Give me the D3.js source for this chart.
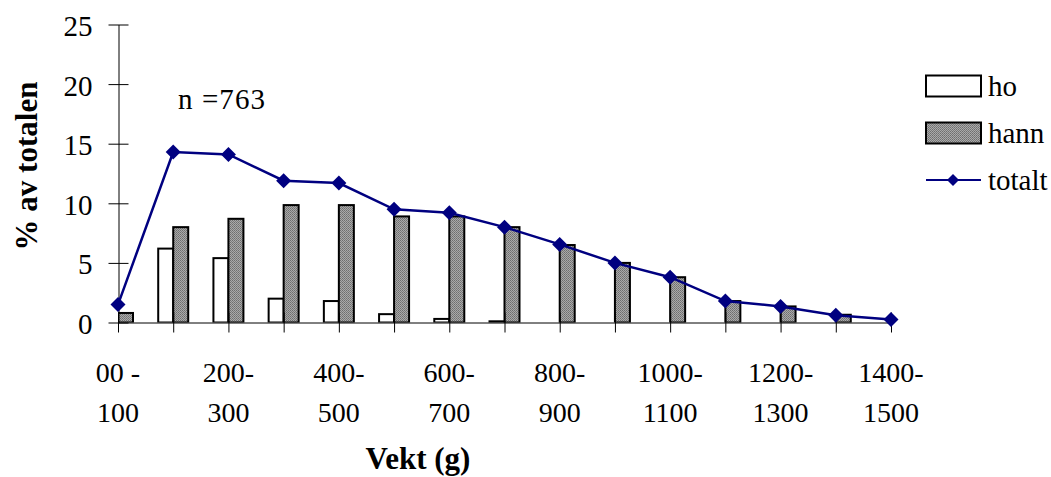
<!DOCTYPE html>
<html>
<head>
<meta charset="utf-8">
<script src="https://cdn.jsdelivr.net/npm/d3@7"></script>
<style>
  body { margin: 0; background: #fff; }
  svg { display: block; font-family: "Liberation Serif", "Times New Roman", serif; }
</style>
</head>
<body>
<div id="chart"></div>
<script>
// weight classes (g)
const categories = ["00 -100", "100-200", "200-300", "300-400", "400-500", "500-600", "600-700",
  "700-800", "800-900", "900-1000", "1000-1100", "1100-1200", "1200-1300", "1300-1400", "1400-1500"];
// % of total
const hoValues = [0.7, 6.2, 5.4, 2.0, 1.8, 0.7, 0.3, 0.1, 0, 0, 0, 0, 0, 0, 0];
const hannValues = [0.8, 8.0, 8.7, 9.85, 9.85, 8.9, 8.9, 8.0, 6.5, 5.0, 3.8, 1.8, 1.35, 0.65, 0.3];
const totaltValues = [1.5, 14.3, 14.1, 11.9, 11.7, 9.5, 9.2, 8.0, 6.55, 5.0, 3.8, 1.8, 1.35, 0.6, 0.25];
const yTicks = [0, 5, 10, 15, 20, 25];
const seriesNames = ["ho", "hann", "totalt"];

const width = 1051, height = 477;
const margin = {top: 24.5, right: 160, bottom: 154.5, left: 118};

const svg = d3.select("#chart").append("svg")
    .attr("width", width)
    .attr("height", height);

// fine grey dither like the old excel fill
const defs = svg.append("defs");
const pat = defs.append("pattern")
    .attr("id", "hatch")
    .attr("patternUnits", "userSpaceOnUse")
    .attr("width", 2).attr("height", 2);
pat.append("rect").attr("width", 2).attr("height", 2).attr("fill", "#a9a9a9");
pat.append("rect").attr("width", 1).attr("height", 1).attr("fill", "#6e6e6e");
pat.append("rect").attr("x", 1).attr("y", 1).attr("width", 1).attr("height", 1).attr("fill", "#7c7c7c");

defs.append("clipPath").attr("id", "plot-clip")
  .append("rect")
    .attr("x", margin.left).attr("y", 0)
    .attr("width", width - margin.right - margin.left + 1)
    .attr("height", height - margin.bottom);

let x = d3.scalePoint()
    .domain(categories)
    .range([margin.left, width - margin.right]);

let sub = d3.scaleBand()
    .domain(["ho", "hann"])
    .range([-15, 15]);

let y = d3.scaleLinear()
    .domain([0, 25])
    .range([height - margin.bottom, margin.top]);

// bars
let bars = svg.append("g").attr("clip-path", "url(#plot-clip)");
categories.forEach((c, i) => {
  [["ho", hoValues[i], "#fff"], ["hann", hannValues[i], "url(#hatch)"]].forEach(([k, v, fill]) => {
    if (v <= 0) return;
    bars.append("rect")
        .attr("x", x(c) + sub(k))
        .attr("y", y(v))
        .attr("width", sub.bandwidth())
        .attr("height", y(0) - y(v))
        .attr("fill", fill)
        .attr("stroke", "#000")
        .attr("stroke-width", 2);
  });
});

// axes
let yAxis = g => g
    .attr("transform", `translate(${margin.left + 0.5},0)`)
    .call(d3.axisLeft(y).tickValues(yTicks).tickSize(0).tickPadding(26))
    .call(g => g.selectAll(".tick line").attr("x1", -10).attr("x2", 10).attr("stroke", "#000"))
    .call(g => g.select(".domain").attr("stroke", "#000"))
    .call(g => g.selectAll(".tick text")
        .attr("font-family", "Liberation Serif")
        .attr("font-size", 29)
        .attr("fill", "#000")
        .attr("dy", "0.38em"));

let xAxis = g => g
    .attr("transform", `translate(0,${height - margin.bottom})`)
    .call(d3.axisBottom(x).tickSize(0).tickFormat(""))
    .call(g => g.selectAll(".tick line").attr("y1", -10).attr("y2", 10).attr("stroke", "#000"))
    .call(g => g.select(".domain").attr("stroke", "#000"));

svg.append("g").call(xAxis);
svg.append("g").call(yAxis);

// category labels, every other one, two lines
let catLabels = svg.append("g")
    .attr("font-size", 28)
    .attr("text-anchor", "middle");
categories.forEach((c, i) => {
  if (i % 2) return;
  let parts = c.match(/^(.*-)(\d+)$/);
  catLabels.append("text").attr("x", x(c)).attr("y", 382).text(parts[1]);
  catLabels.append("text").attr("x", x(c)).attr("y", 422).text(parts[2]);
});

// total line
let line = d3.line()
    .x((d, i) => x(categories[i]))
    .y(d => y(d));

svg.append("path")
    .datum(totaltValues)
    .attr("fill", "none")
    .attr("stroke", "#000080")
    .attr("stroke-width", 2.5)
    .attr("d", line);

let diamond = r => `M0,${-r}L${r},0L0,${r}L${-r},0Z`;
svg.append("g")
  .selectAll("path")
  .data(totaltValues)
  .enter().append("path")
    .attr("transform", (d, i) => `translate(${x(categories[i])},${y(d)})`)
    .attr("d", diamond(7.5))
    .attr("fill", "#000080");

// annotations and titles
svg.append("text")
    .attr("x", 178)
    .attr("y", 109)
    .attr("font-size", 29)
    .attr("textLength", 87)
    .text("n =763");

svg.append("text")
    .attr("x", 418)
    .attr("y", 469)
    .attr("text-anchor", "middle")
    .attr("font-size", 31)
    .attr("font-weight", "bold")
    .text("Vekt (g)");

svg.append("text")
    .attr("transform", "translate(37,166) rotate(-90)")
    .attr("text-anchor", "middle")
    .attr("font-size", 31)
    .attr("font-weight", "bold")
    .text("% av totalen");

// legend
let legend = svg.append("g").attr("font-size", 29);
seriesNames.forEach((s, i) => {
  let cy = 86 + i * 47;
  let row = legend.append("g").attr("transform", `translate(926,${cy})`);
  if (s === "totalt") {
    row.append("line").attr("x1", 0).attr("x2", 55).attr("y1", 0).attr("y2", 0)
        .attr("stroke", "#000080").attr("stroke-width", 2);
    row.append("path").attr("transform", "translate(27,0)").attr("d", diamond(6)).attr("fill", "#000080");
  } else {
    row.append("rect").attr("x", 0).attr("y", -10.5).attr("width", 55).attr("height", 21)
        .attr("fill", s === "ho" ? "#fff" : "url(#hatch)")
        .attr("stroke", "#000").attr("stroke-width", 2);
  }
  row.append("text").attr("x", 62).attr("y", 10).text(s);
});
</script>
</body>
</html>
